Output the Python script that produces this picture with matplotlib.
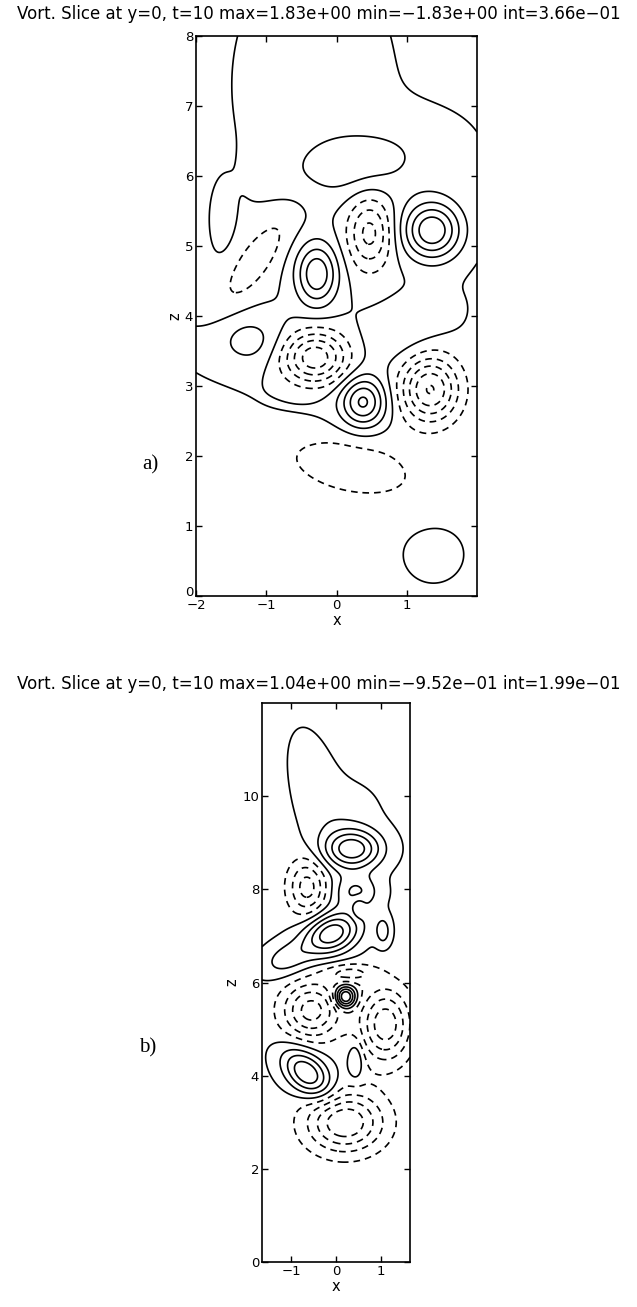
import numpy as np
import matplotlib
matplotlib.use("Agg")
import matplotlib.pyplot as plt

# --- panel a: values from the title ---
a_max, a_min, a_int = 1.83, -1.83, 0.366
a_xlim, a_zlim = (-2.0, 2.0), (0.0, 8.0)
a_background = -0.05

# vortex patches:
# centre x, centre z, strength, width along x, width along z, tilt (deg)
a_x = [1.36, -0.28, 0.38, -0.31, 1.33, 0.47, -1.15, 0.20, 0.20, -1.24, 1.38,
       -0.32, 1.20, -0.90, -0.10, 1.00, -1.62]
a_z = [5.22, 4.60, 2.77, 3.41, 2.95, 5.19, 4.80, 1.85, 6.17, 3.65, 0.60,
       7.30, 6.20, 3.60, 2.75, 3.80, 5.35]
a_amp = [1.83, 1.45, 1.47, -1.83, -1.83, -1.20, -0.55, -0.55, 0.55, 0.40, 0.20,
         0.22, 0.15, 0.20, 0.16, 0.30, 0.16]
a_wx = [0.29, 0.21, 0.22, 0.33, 0.29, 0.22, 0.57, 0.75, 0.63, 0.30, 0.26,
        0.68, 0.60, 0.90, 0.70, 0.50, 0.12]
a_wz = [0.29, 0.31, 0.25, 0.27, 0.33, 0.36, 0.19, 0.33, 0.32, 0.24, 0.25,
        1.10, 0.50, 0.35, 0.30, 0.30, 0.35]
a_tilt = [0, 0, 0, 0, 0, 0, 55, -12, 10, 0, 0, 0, 0, 0, 0, 30, 0]

# --- panel b ---
b_max, b_min, b_int = 1.04, -0.952, 0.199
b_xlim, b_zlim = (-1.65, 1.65), (0.0, 12.0)
b_background = 0.0

b_x = [-0.40, 0.37, -0.10, 1.05, -1.10, 0.21, -0.65, 0.44, -0.64, 0.50,
       -0.55, 1.10, 0.20, 0.30, 0.45, 0.35]
b_z = [10.0, 8.86, 7.05, 7.10, 6.50, 5.69, 4.05, 4.33, 8.05, 7.60,
       5.40, 5.10, 3.00, 6.20, 7.95, 9.60]
b_amp = [0.14, 0.95, 1.00, 0.35, 0.35, 1.04, 0.85, 0.30, -0.65, -0.25,
         -0.85, -0.90, -0.95, -0.40, 0.45, 0.10]
b_wx = [0.38, 0.45, 0.45, 0.12, 0.40, 0.16, 0.45, 0.12, 0.30, 0.10,
        0.45, 0.40, 0.60, 0.40, 0.35, 0.50]
b_wz = [1.00, 0.30, 0.30, 0.22, 0.25, 0.16, 0.28, 0.30, 0.42, 0.15,
        0.42, 0.55, 0.45, 0.15, 0.25, 0.50]
b_tilt = [15, 0, 20, 0, 20, 0, -42, 0, 0, 0, 0, 0, 0, 0, 0, 0]


def build_field(X, Z, xs, zs, amps, wx, wz, tilt, background):
    F = np.full_like(X, background)
    for x0, z0, a, sx, sz, t in zip(xs, zs, amps, wx, wz, tilt):
        th = np.deg2rad(t)
        u = (X - x0) * np.cos(th) + (Z - z0) * np.sin(th)
        v = -(X - x0) * np.sin(th) + (Z - z0) * np.cos(th)
        F += a * np.exp(-0.5 * ((u / sx) ** 2 + (v / sz) ** 2))
    return F


def draw_slice(ax, xlim, zlim, field_args, vmin, vmax):
    x = np.linspace(xlim[0], xlim[1], 260)
    z = np.linspace(zlim[0], zlim[1], 600)
    X, Z = np.meshgrid(x, z)
    F = build_field(X, Z, *field_args)

    levels = np.round(np.linspace(vmin, vmax, 11), 4)
    neg = [lv for lv in levels if lv < 0]
    pos = [lv for lv in levels if lv >= 0]
    ax.contour(X, Z, F, levels=neg, colors="k", linewidths=1.2,
               linestyles=[(0, (4, 3))])
    ax.contour(X, Z, F, levels=pos, colors="k", linewidths=1.2,
               linestyles="solid")

    ax.set_xlim(xlim)
    ax.set_ylim(zlim)
    ax.set_xlabel("x", fontsize=10.5, labelpad=1)
    ax.set_ylabel("z", fontsize=10.5, labelpad=2)
    ax.tick_params(direction="in", top=True, right=True, length=4,
                   width=1, labelsize=9.5, pad=2)
    for sp in ax.spines.values():
        sp.set_linewidth(1.2)


def title_text(vmax, vmin, vint):
    def f(v):
        return f"{v:.2e}".replace("-", "\u2212")
    return (f"Vort. Slice at y=0, t=10 max={f(vmax)} "
            f"min={f(vmin)} int={f(vint)}")


W, H = 637, 1307
fig = plt.figure(figsize=(W / 100, H / 100), dpi=100)
plt.rcParams["font.family"] = ["DejaVu Sans"]

ax_a = fig.add_axes([196 / W, 1 - 596 / H, 281 / W, 560 / H])
draw_slice(ax_a, a_xlim, a_zlim,
           (a_x, a_z, a_amp, a_wx, a_wz, a_tilt, a_background),
           a_min, a_max)
ax_a.set_xticks([-2, -1, 0, 1])
ax_a.set_yticks(range(0, 9))
# lift the "0" so it clears the "-2" under it
ax_a.get_yticklabels()[0].set_verticalalignment("baseline")

ax_b = fig.add_axes([262 / W, 1 - 1262 / H, 148 / W, 559 / H])
draw_slice(ax_b, b_xlim, b_zlim,
           (b_x, b_z, b_amp, b_wx, b_wz, b_tilt, b_background),
           b_min, b_max)
ax_b.set_xticks([-1, 0, 1])
ax_b.set_yticks([0, 2, 4, 6, 8, 10])

fig.text(0.5, 1 - 14 / H, title_text(a_max, a_min, a_int),
         ha="center", va="center", fontsize=12)
fig.text(0.5, 1 - 684 / H, title_text(b_max, b_min, b_int),
         ha="center", va="center", fontsize=12)

fig.text(150 / W, 1 - 465 / H, "a)", family="Liberation Serif",
         fontsize=15, ha="center", va="center")
fig.text(148 / W, 1 - 1048 / H, "b)", family="Liberation Serif",
         fontsize=15, ha="center", va="center")

fig.savefig("out.png", dpi=100)
